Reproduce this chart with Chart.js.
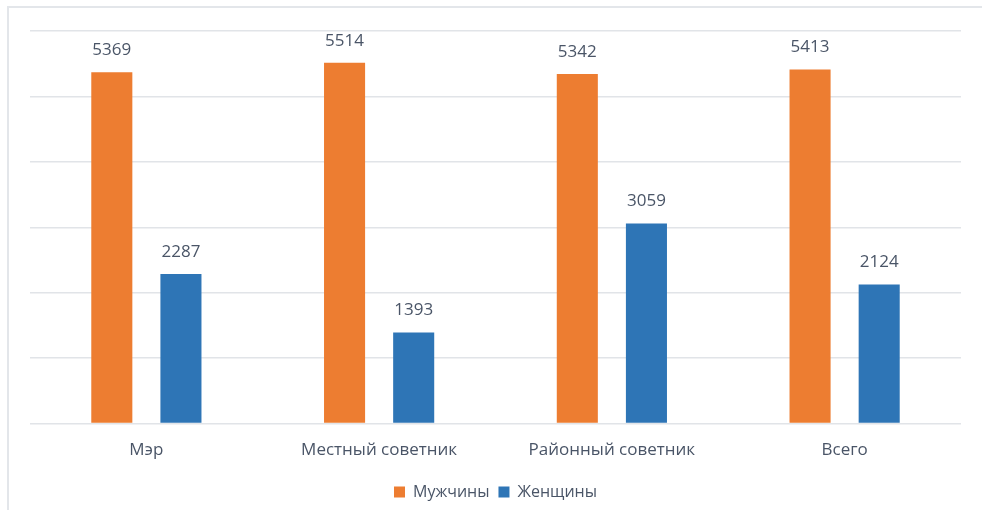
<!DOCTYPE html>
<html><head><meta charset="utf-8">
<script src="https://cdn.jsdelivr.net/npm/chart.js@4/dist/chart.umd.min.js"></script>
<style>
html,body{margin:0;padding:0;background:#fff;}
#wrap{position:relative;width:982px;height:510px;overflow:hidden;}
#frame{position:absolute;left:7px;top:6px;width:1000px;height:600px;border:2px solid #e3e6ea;box-sizing:border-box;pointer-events:none;}
canvas{position:absolute;left:0;top:0;}
</style></head><body>
<div id="wrap"><canvas id="c" width="982" height="510"></canvas><div id="frame"></div></div>
<script>
const categories = ["Мэр", "Местный советник", "Районный советник", "Всего"];
const men = [5369, 5514, 5342, 5413];
const women = [2287, 1393, 3059, 2124];
const seriesNames = ["Мужчины", "Женщины"];
const textColor = "#4a5567";
const gridColor = "#e1e4e8";

const labelPlugin = {
  id: "barLabels",
  afterDatasetsDraw(chart) {
    const ctx = chart.ctx;
    ctx.save();
    ctx.font = "17px 'Open Sans'";
    ctx.fillStyle = textColor;
    ctx.textAlign = "center";
    ctx.textBaseline = "middle";
    chart.data.datasets.forEach((ds, i) => {
      chart.getDatasetMeta(i).data.forEach((bar, j) => {
        ctx.fillText(String(ds.data[j]), bar.x, bar.y - 22);
      });
    });
    ctx.restore();
  }
};

new Chart(document.getElementById("c"), {
  type: "bar",
  data: {
    labels: categories,
    datasets: [
      {label: seriesNames[0], data: men, backgroundColor: "#ED7D31", categoryPercentage: 0.594, barPercentage: 0.594},
      {label: seriesNames[1], data: women, backgroundColor: "#2E75B6", categoryPercentage: 0.594, barPercentage: 0.594}
    ]
  },
  options: {
    responsive: false,
    animation: false,
    layout: {padding: {left: 30, right: 21, top: 31, bottom: 0}},
    plugins: {
      legend: {
        position: "bottom",
        labels: {boxWidth: 11, boxHeight: 11, font: {family: "Open Sans", size: 16}, color: textColor, padding: 9}
      },
      tooltip: {enabled: false}
    },
    scales: {
      x: {
        grid: {display: false},
        border: {display: false},
        ticks: {font: {family: "Open Sans", size: 17}, color: textColor, padding: 8, maxRotation: 0},
        afterFit(scale) { scale.height += 7; }
      },
      y: {
        min: 0, max: 6000,
        ticks: {display: false, stepSize: 1000},
        border: {display: false},
        grid: {color: gridColor, lineWidth: 1.5, drawTicks: false}
      }
    }
  },
  plugins: [labelPlugin]
});
</script>
</body></html>
